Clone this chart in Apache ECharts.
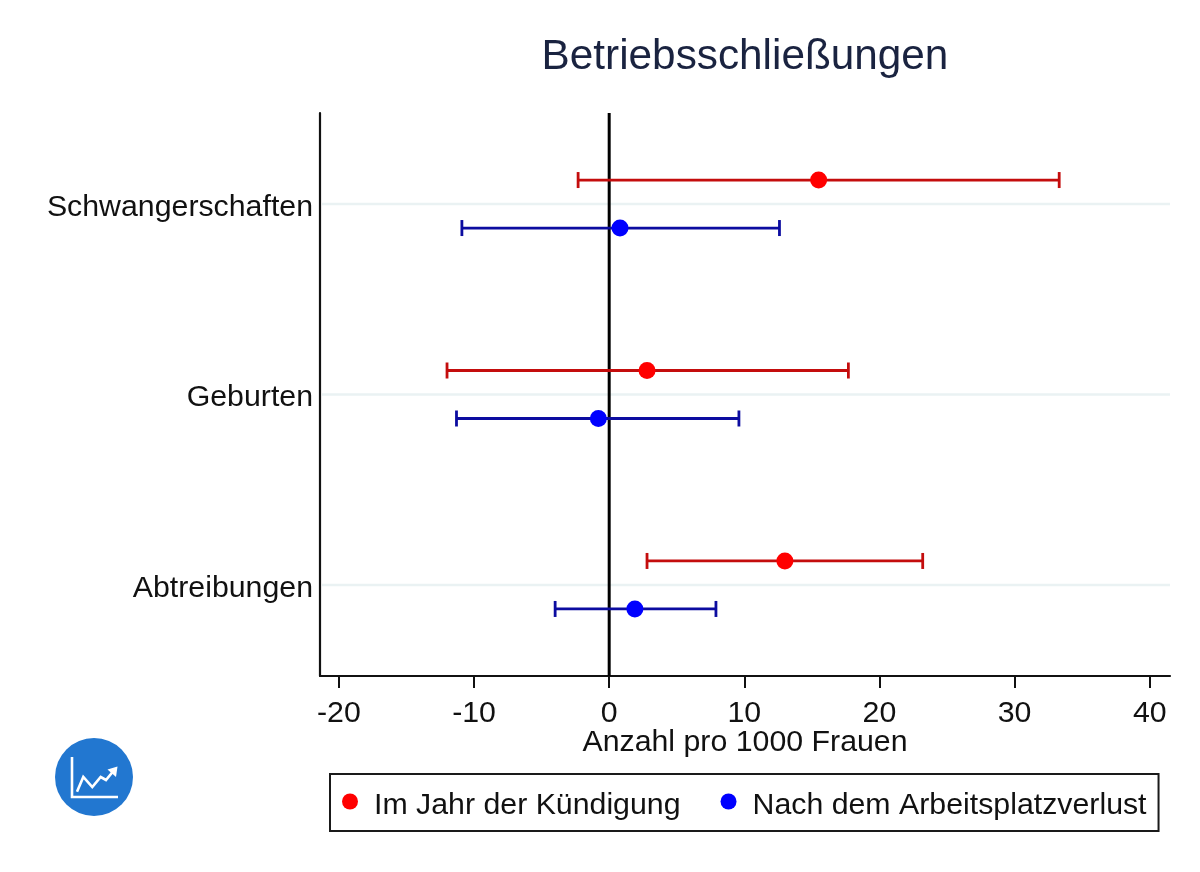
<!DOCTYPE html>
<html><head><meta charset="utf-8">
<style>html,body{margin:0;padding:0;background:#fff}#c{width:1200px;height:872px}</style>
<script src="https://cdn.jsdelivr.net/npm/echarts@6/dist/echarts.min.js"></script>
</head><body><div id="c"></div>
<script>
const categories = ['Abtreibungen', 'Geburten', 'Schwangerschaften'];
const categoryPos = [1, 2, 3];
const xTicks = [-20, -10, 0, 10, 20, 30, 40];
const seriesNames = ['Im Jahr der Kündigung', 'Nach dem Arbeitsplatzverlust'];
const redMean = [13.0, 2.8, 15.5];
const redLow = [2.8, -12.0, -2.3];
const redHigh = [23.2, 17.7, 33.3];
const blueMean = [1.9, -0.8, 0.8];
const blueLow = [-4.0, -11.3, -10.9];
const blueHigh = [7.9, 9.6, 12.6];
const offset = 0.126;
const FONT = '"Liberation Sans", Arial, sans-serif';

function errData(low, high, off) {
  return categoryPos.map((p, i) => [low[i], high[i], p + off]);
}
function meanData(mean, off) {
  return categoryPos.map((p, i) => [mean[i], p + off]);
}
function errSeries(data, color) {
  return {
    type: 'custom', silent: true, z: 4, data,
    encode: { x: [0, 1], y: 2 },
    renderItem(params, api) {
      const a = api.coord([api.value(0), api.value(2)]);
      const b = api.coord([api.value(1), api.value(2)]);
      const cap = 8;
      const style = { stroke: color, lineWidth: 2.8, fill: null };
      return { type: 'group', children: [
        { type: 'line', shape: { x1: a[0], y1: a[1], x2: b[0], y2: b[1] }, style },
        { type: 'line', shape: { x1: a[0], y1: a[1] - cap, x2: a[0], y2: a[1] + cap }, style },
        { type: 'line', shape: { x1: b[0], y1: b[1] - cap, x2: b[0], y2: b[1] + cap }, style }
      ]};
    }
  };
}
function meanSeries(name, data, color) {
  return {
    name, type: 'scatter', z: 5, data, symbol: 'circle', symbolSize: 17,
    itemStyle: { color, borderWidth: 0, opacity: 1 }
  };
}

const chart = echarts.init(document.getElementById('c'), null, { renderer: 'canvas' });
chart.setOption({
  animation: false,
  backgroundColor: '#ffffff',
  title: {
    text: 'Betriebsschließungen', left: 740, top: 31, textAlign: 'center',
    textStyle: { fontFamily: FONT, fontSize: 42.3, fontWeight: 'normal', color: '#1a2340' }
  },
  legend: {
    data: seriesNames, left: 330, top: 774, orient: 'horizontal',
    backgroundColor: '#fff', borderColor: '#1a1a1a', borderWidth: 2,
    padding: [17, 12, 10, 12], itemWidth: 16, itemHeight: 16, itemGap: 40,
    icon: 'circle', selectedMode: false,
    itemStyle: { borderWidth: 0 },
    formatter: '{a|{name}}',
    textStyle: {
      fontFamily: FONT, fontSize: 30.3, color: '#111',
      rich: { a: { fontFamily: FONT, fontSize: 30.3, color: '#111', padding: [9, 0, 0, 11] } }
    }
  },
  grid: { left: 320, right: 30, top: 113, bottom: 196, containLabel: false },
  xAxis: {
    type: 'value', min: -21.4, max: 41.5,
    name: 'Anzahl pro 1000 Frauen', nameLocation: 'middle', nameGap: 52, nameMoveOverlap: false,
    nameTextStyle: { fontFamily: FONT, fontSize: 30.3, color: '#111' },
    axisLine: { show: true, onZero: false, lineStyle: { color: '#111', width: 2.2 } },
    axisTick: { show: true, length: 12, customValues: xTicks, lineStyle: { color: '#111', width: 2 } },
    axisLabel: { customValues: xTicks, margin: 23, fontFamily: FONT, fontSize: 30.3, color: '#111' },
    splitLine: { show: false }
  },
  yAxis: {
    type: 'value', min: 0.522, max: 3.478,
    axisLine: { show: true, onZero: false, lineStyle: { color: '#111', width: 2.2 } },
    axisTick: { show: false, customValues: categoryPos },
    axisLabel: {
      customValues: categoryPos, margin: 7, fontFamily: FONT, fontSize: 30.3, color: '#111',
      formatter: v => '{a|' + categories[categoryPos.indexOf(Math.round(v))] + '}',
      rich: { a: { fontFamily: FONT, fontSize: 30.3, color: '#111', padding: [7, 0, 0, 0] } }
    },
    splitLine: { show: false }
  },
  series: [
    {
      type: 'custom', silent: true, z: 1, data: categoryPos.map(p => [p]),
      encode: { y: 0 },
      renderItem(params, api) {
        const y = api.coord([0, api.value(0)])[1];
        const cs = params.coordSys;
        return { type: 'line', shape: { x1: cs.x + 2, y1: y, x2: cs.x + cs.width, y2: y },
          style: { stroke: '#eaf2f3', lineWidth: 2.5 } };
      }
    },
    {
      type: 'custom', silent: true, z: 2, data: [[0]],
      encode: { x: 0 },
      renderItem(params, api) {
        const x = api.coord([api.value(0), 1])[0];
        const cs = params.coordSys;
        return { type: 'line', shape: { x1: x, y1: cs.y, x2: x, y2: cs.y + cs.height },
          style: { stroke: '#000', lineWidth: 3 } };
      }
    },
    errSeries(errData(redLow, redHigh, offset), '#c40d0d'),
    errSeries(errData(blueLow, blueHigh, -offset), '#0c0ca0'),
    meanSeries(seriesNames[0], meanData(redMean, offset), '#ff0000'),
    meanSeries(seriesNames[1], meanData(blueMean, -offset), '#0000ff')
  ],
  graphic: [{
    type: 'group', silent: true, children: [
      { type: 'circle', shape: { cx: 94, cy: 777, r: 39 }, style: { fill: '#2277d0' } },
      { type: 'polyline', shape: { points: [[72, 757], [72, 797], [118, 797]] },
        style: { stroke: '#fff', lineWidth: 2.6, fill: null } },
      { type: 'polyline', shape: { points: [[77, 791.7], [83.3, 777], [92.3, 787], [100.7, 777], [106, 780], [115, 769]] },
        style: { stroke: '#fff', lineWidth: 2.6, fill: null } },
      { type: 'polygon', shape: { points: [[117.5, 766.5], [107.5, 769.5], [116, 777]] },
        style: { fill: '#fff' } }
    ]
  }]
});
</script></body></html>
